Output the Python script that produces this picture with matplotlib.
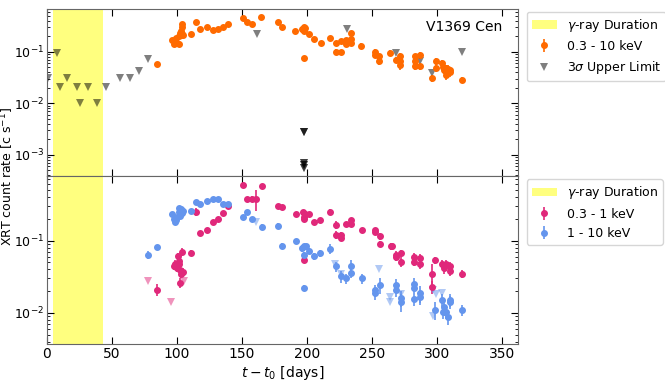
import numpy as np
import matplotlib
matplotlib.use("Agg")
import matplotlib.pyplot as plt

# ---- 0.3 - 10 keV (top panel) ----
full_t = [84.5, 96, 98, 99.5, 100.5, 101.6, 102, 102.5, 103, 103.3, 103.7, 104, 104.3, 104.8,
          110.6, 114.7, 118, 123.4, 128, 131.8, 135.7, 139.5, 151, 153.6, 158, 165, 178, 181,
          191, 196.5, 197.5, 198, 198.5, 197.7, 201.5, 205.4, 210.5, 218, 222, 222, 226, 226,
          229.7, 229.7, 233.8, 233.8, 233.8, 241.5, 252, 252, 255.5, 255.5, 263.7, 268.3,
          271.4, 271.4, 271.4, 283, 283, 283, 286.8, 286.8, 296.3, 298.8, 298.8, 303.5, 304.5,
          305.5, 306.5, 307.5, 308.5, 309.5, 310, 307, 318.8]
full_rate = [0.059, 0.17, 0.14, 0.19, 0.15, 0.14, 0.20, 0.23, 0.21, 0.26, 0.30, 0.35, 0.22, 0.21,
             0.22, 0.38, 0.28, 0.31, 0.27, 0.28, 0.30, 0.35, 0.46, 0.38, 0.35, 0.48, 0.39, 0.30,
             0.26, 0.28, 0.30, 0.26, 0.29, 0.076, 0.22, 0.18, 0.15, 0.19, 0.15, 0.10, 0.16, 0.10,
             0.14, 0.17, 0.23, 0.18, 0.15, 0.13, 0.10, 0.087, 0.082, 0.066, 0.095, 0.071,
             0.082, 0.066, 0.057, 0.082, 0.066, 0.053, 0.086, 0.053, 0.031, 0.066, 0.049, 0.061, 0.050,
             0.045, 0.048, 0.043, 0.047, 0.044, 0.040, 0.036, 0.029]
full_err = [0.005, 0.012, 0.01, 0.012, 0.01, 0.01, 0.012, 0.015, 0.012, 0.015, 0.02, 0.02, 0.015, 0.015,
            0.012, 0.02, 0.015, 0.015, 0.015, 0.015, 0.015, 0.02, 0.025, 0.02, 0.02, 0.025, 0.02, 0.02,
            0.015, 0.015, 0.02, 0.015, 0.02, 0.006, 0.015, 0.012, 0.012, 0.015, 0.015, 0.012, 0.015, 0.01,
            0.015, 0.015, 0.02, 0.015, 0.015, 0.018, 0.012, 0.012, 0.01, 0.01, 0.012, 0.01,
            0.012, 0.01, 0.012, 0.01, 0.01, 0.008, 0.012, 0.008, 0.005, 0.01, 0.008, 0.01, 0.008,
            0.008, 0.008, 0.007, 0.008, 0.007, 0.007, 0.007, 0.004]

# 3 sigma upper limits (top panel); repeated entries overlap and look darker
ul_t = [1, 8.2, 10.5, 15.8, 23.3, 25.3, 32, 38.9, 45.8, 56.3, 64, 70.9, 77.6, 161.3,
        198, 198, 198, 198, 198, 198, 198, 198, 198, 230.4, 268, 286.8, 296.3, 318.8]
ul_rate = [0.031, 0.095, 0.021, 0.031, 0.021, 0.0102, 0.021, 0.0102, 0.021, 0.031, 0.031, 0.042,
           0.073, 0.22, 0.0028, 0.0028, 0.0028, 0.00070, 0.00070, 0.00063, 0.00063, 0.00056,
           0.00056, 0.28, 0.095, 0.066, 0.039, 0.10]

# ---- 0.3 - 1 keV (bottom panel) ----
soft_t = [84.7, 97.8, 99, 100, 101, 101.5, 102, 102.4, 102.4, 103, 103.7, 104.5, 110.6,
          114.7, 118, 123.4, 128, 131.8, 135.7, 139.5, 151, 153.6, 158, 161, 165.2, 178, 181,
          191.3, 197, 197.5, 198.5, 198, 198, 201.5, 205.4, 210.2, 217.6, 222, 222, 226, 226,
          230, 233.8, 233.8, 242, 252.5, 252.5, 256, 256, 264.3, 265.5, 268, 268, 272, 272,
          282.4, 282.4, 286.8, 286.8, 296, 296, 298.5, 303.5, 305, 307, 309.5, 309.5, 318.8]
soft_rate = [0.021, 0.044, 0.048, 0.042, 0.062, 0.047, 0.052, 0.039, 0.026, 0.035, 0.070, 0.037, 0.068,
             0.25, 0.127, 0.138, 0.18, 0.20, 0.24, 0.30, 0.58, 0.37, 0.38, 0.38, 0.57, 0.30, 0.29,
             0.23, 0.25, 0.215, 0.23, 0.20, 0.054, 0.23, 0.178, 0.19, 0.25, 0.166, 0.12, 0.12, 0.11,
             0.17, 0.19, 0.17, 0.138, 0.138, 0.13, 0.114, 0.09, 0.083, 0.083, 0.063, 0.060, 0.067, 0.051,
             0.060, 0.051, 0.057, 0.048, 0.035, 0.023, 0.054, 0.048, 0.042, 0.047, 0.044, 0.038, 0.0346]
soft_err = [0.004, 0.005, 0.005, 0.005, 0.006, 0.005, 0.005, 0.005, 0.004, 0.005, 0.008, 0.005, 0.006,
            0.03, 0.01, 0.01, 0.012, 0.012, 0.015, 0.02, 0.03, 0.025, 0.03, 0.12, 0.03, 0.02, 0.02,
            0.015, 0.015, 0.015, 0.015, 0.015, 0.004, 0.015, 0.012, 0.012, 0.02, 0.02, 0.015, 0.012, 0.012,
            0.012, 0.015, 0.012, 0.012, 0.01, 0.01, 0.012, 0.008, 0.01, 0.008, 0.008, 0.008, 0.008, 0.008,
            0.008, 0.007, 0.008, 0.007, 0.012, 0.005, 0.006, 0.006, 0.007, 0.006, 0.006, 0.006, 0.004]
soft_ul_t = [77.8, 95.7, 105.5]
soft_ul_rate = [0.028, 0.014, 0.028]

# ---- 1 - 10 keV (bottom panel) ----
hard_t = [77.8, 85, 96, 97.5, 98.5, 99.5, 100.5, 101.5, 102, 102.5, 103, 104, 104.8, 110.6,
          114.7, 118, 123.4, 128, 131.8, 135.7, 139.5, 151, 153.6, 158, 165.2, 178, 181, 191.3,
          196.5, 197.5, 198, 199, 198, 201.5, 205.4, 210.2, 217.6, 222, 226, 230, 233.8, 233.8,
          242, 252, 252, 256, 268, 268, 272, 272, 282.4, 282.4, 282.4, 286.8, 286.8, 298.5,
          303.5, 304.5, 305.5, 307, 308, 309.5, 309.5, 318.8]
hard_rate = [0.063, 0.081, 0.23, 0.20, 0.18, 0.19, 0.21, 0.28, 0.25, 0.22, 0.27, 0.24, 0.26, 0.26,
             0.34, 0.32, 0.35, 0.37, 0.38, 0.32, 0.32, 0.21, 0.245, 0.20, 0.156, 0.16, 0.085, 0.097,
             0.078, 0.083, 0.063, 0.083, 0.022, 0.072, 0.061, 0.067, 0.077, 0.044, 0.032, 0.030, 0.045, 0.036,
             0.030, 0.0206, 0.019, 0.024, 0.024, 0.0206, 0.0159, 0.0142, 0.025, 0.022, 0.0155, 0.0186, 0.0167, 0.011,
             0.015, 0.0103, 0.012, 0.0103, 0.0088, 0.015, 0.0142, 0.011]
hard_err = [0.008, 0.007, 0.015, 0.012, 0.012, 0.012, 0.012, 0.015, 0.015, 0.012, 0.015, 0.015, 0.015, 0.015,
            0.02, 0.018, 0.018, 0.02, 0.02, 0.018, 0.018, 0.015, 0.015, 0.012, 0.012, 0.015, 0.008, 0.008,
            0.008, 0.008, 0.007, 0.008, 0.002, 0.007, 0.007, 0.008, 0.012, 0.007, 0.006, 0.005, 0.008, 0.006,
            0.005, 0.004, 0.004, 0.006, 0.005, 0.004, 0.004, 0.004, 0.005, 0.004, 0.003, 0.005, 0.004, 0.003,
            0.003, 0.002, 0.003, 0.002, 0.002, 0.003, 0.003, 0.002]
hard_ul_t = [160.8, 221.5, 226, 255.5, 263.7, 263.7, 272, 296.5, 296.5, 299, 303.5]
hard_ul_rate = [0.18, 0.048, 0.035, 0.041, 0.0164, 0.0142, 0.018, 0.0206, 0.009, 0.018, 0.0186]

gamma_start, gamma_end = 5.1, 43.5

c_full = "#ff6a00"
c_soft = "#e0287a"
c_hard = "#6495ed"

fig, (ax1, ax2) = plt.subplots(2, 1, sharex=True, figsize=(6.65, 3.84), dpi=100)
fig.subplots_adjust(left=0.070, right=0.779, top=0.977, bottom=0.104, hspace=0)

# top panel
span1 = ax1.axvspan(gamma_start, gamma_end, color="yellow", alpha=0.5, lw=0)
eb1 = ax1.errorbar(full_t, full_rate, yerr=full_err, fmt="o", color=c_full, ms=4, elinewidth=1.2,
                   capsize=0)
ul1, = ax1.plot(ul_t, ul_rate, "v", color="k", alpha=0.5, ms=6, mew=0)
ax1.set_yscale("log")
ax1.set_ylim(3.8e-4, 0.69)
ax1.text(0.967, 0.935, "V1369 Cen", transform=ax1.transAxes, ha="right", va="top", fontsize=10)
ax1.legend([span1, eb1, ul1], [r"$\gamma$-ray Duration", "0.3 - 10 keV", r"3$\sigma$ Upper Limit"],
           loc="upper left", bbox_to_anchor=(1.018, 0.984), borderaxespad=0, fontsize=9)

# bottom panel
span2 = ax2.axvspan(gamma_start, gamma_end, color="yellow", alpha=0.5, lw=0)
eb2 = ax2.errorbar(soft_t, soft_rate, yerr=soft_err, fmt="o", color=c_soft, ms=4, elinewidth=1.2,
                   capsize=0)
eb3 = ax2.errorbar(hard_t, hard_rate, yerr=hard_err, fmt="o", color=c_hard, ms=4, elinewidth=1.2,
                   capsize=0)
ax2.plot(soft_ul_t, soft_ul_rate, "v", color=c_soft, alpha=0.5, ms=6, mew=0)
ax2.plot(hard_ul_t, hard_ul_rate, "v", color=c_hard, alpha=0.5, ms=6, mew=0)
ax2.set_yscale("log")
ax2.set_ylim(3.7e-3, 0.77)
ax2.set_xlim(0, 362)
ax2.set_xticks([0, 50, 100, 150, 200, 250, 300, 350])
ax2.set_xlabel(r"$t - t_0$ [days]", fontsize=10, labelpad=2)
ax2.legend([span2, eb2, eb3], [r"$\gamma$-ray Duration", "0.3 - 1 keV", "1 - 10 keV"],
           loc="upper left", bbox_to_anchor=(1.018, 0.982), borderaxespad=0, fontsize=9)

for ax in (ax1, ax2):
    ax.tick_params(which="both", direction="in", top=True, right=True, labelsize=10)
    ax.tick_params(which="major", length=5, pad=2)
    ax.tick_params(which="minor", length=2.5)
    ax.tick_params(axis="y", labelsize=9)
    for sp in ax.spines.values():
        sp.set_color("0.4")

fig.text(0.0105, 0.539, r"XRT count rate [c s$^{-1}$]", rotation=90, ha="center", va="center", fontsize=9)

fig.savefig("out.png", dpi=100)
